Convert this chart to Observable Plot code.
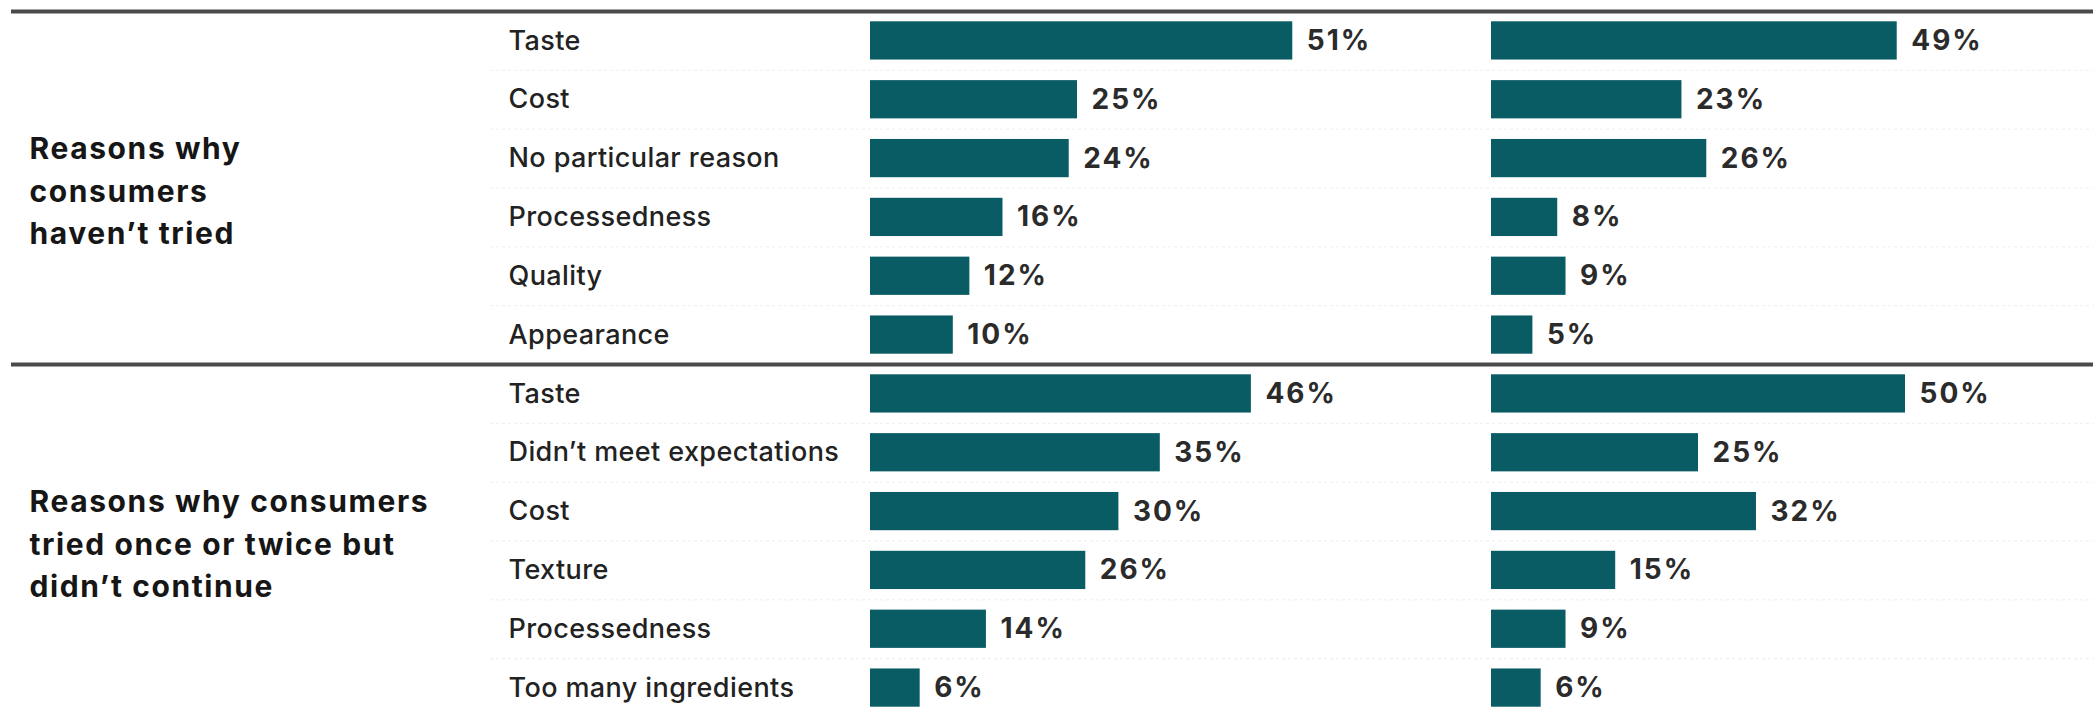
<!DOCTYPE html>
<html><head><meta charset="utf-8">
<script src="https://cdn.jsdelivr.net/npm/d3@7"></script>
<script src="https://cdn.jsdelivr.net/npm/@observablehq/plot@0.6"></script>
<style>
html,body{margin:0;padding:0;background:#fff;overflow:hidden;}
#wrap{position:relative;width:2093px;height:711px;}
#wrap svg{position:absolute;left:0;top:0;}
g[font-size="28"]{letter-spacing:2px;}
g[font-size="30"]{letter-spacing:1.6px;}
g[font-size="27"]{letter-spacing:0.4px;}
</style></head><body><div id="wrap"></div>
<script>
// ---- data ----
const groupLabels = ["Reasons why\nconsumers\nhaven’t tried", "Reasons why consumers\ntried once or twice but\ndidn’t continue"];
const reasonsHaventTried = ["Taste", "Cost", "No particular reason", "Processedness", "Quality", "Appearance"];
const reasonsDidntContinue = ["Taste", "Didn’t meet expectations", "Cost", "Texture", "Processedness", "Too many ingredients"];
const leftHaventTried = [51, 25, 24, 16, 12, 10];
const rightHaventTried = [49, 23, 26, 8, 9, 5];
const leftDidntContinue = [46, 35, 30, 26, 14, 6];
const rightDidntContinue = [50, 25, 32, 15, 9, 6];

// ---- table ----
const rows = [];
[[reasonsHaventTried, leftHaventTried, rightHaventTried],
 [reasonsDidntContinue, leftDidntContinue, rightDidntContinue]].forEach(([reasons, L, R], g) => {
  reasons.forEach((r, i) => rows.push({group: g, idx: i, key: g + "|" + r, reason: r, left: L[i], right: R[i]}));
});
const keys = rows.map(d => d.key);
const groupsData = groupLabels.map((label, g) => ({label, key: rows.find(d => d.group === g && d.idx === 2).key}));

// ---- layout / style ----
const W = 2093, H = 711;
const yTop = 11, yBottom = 717;
const step = (yBottom - yTop) / keys.length;
const yScale = {domain: keys, range: [yTop, yBottom], paddingInner: 0.35, paddingOuter: 0.175, round: false, axis: null};
const font = "Inter, Roboto, 'Open Sans', sans-serif";
const teal = "#0a5c64";
const xDomain = [0, 70];
const pxPerUnit = 8.28;
const leftX0 = 870, rightX0 = 1491;

const p1 = Plot.plot({
  width: W, height: H, marginLeft: 11, marginRight: 0, marginTop: 0, marginBottom: 0,
  style: {fontFamily: font, background: "transparent"},
  x: {domain: xDomain, range: [leftX0, leftX0 + pxPerUnit * xDomain[1]], axis: null},
  y: yScale,
  marks: [
    Plot.ruleY(rows.filter(d => d.idx > 0), {y: "key", dy: -step / 2, stroke: "#ededed", strokeWidth: 1, strokeDasharray: "3,3", insetLeft: 479}),
    Plot.ruleY(rows.filter(d => d.idx === 0), {y: "key", dy: -step / 2, stroke: "#4a4a4a", strokeWidth: 4}),
    Plot.barX(rows, {x: "left", y: "key", fill: teal}),
    Plot.text(rows, {x: "left", y: "key", text: d => d.left + "%", dx: 14, textAnchor: "start", fontSize: 28, fontWeight: 700, fill: "#2b2b2b"}),
    Plot.text(rows, {y: "key", text: "reason", frameAnchor: "left", dx: 497, textAnchor: "start", fontSize: 27, fontWeight: 500, fill: "#222"}),
    Plot.text(groupsData, {y: "key", text: "label", frameAnchor: "left", dx: 18, dy: step / 2, textAnchor: "start", lineAnchor: "middle", lineHeight: 1.42, fontSize: 30, fontWeight: 700, fill: "#161616"})
  ]
});

const p2 = Plot.plot({
  width: W, height: H, marginLeft: 0, marginRight: 0, marginTop: 0, marginBottom: 0,
  style: {fontFamily: font, background: "transparent"},
  x: {domain: xDomain, range: [rightX0, rightX0 + pxPerUnit * xDomain[1]], axis: null},
  y: yScale,
  marks: [
    Plot.barX(rows, {x: "right", y: "key", fill: teal}),
    Plot.text(rows, {x: "right", y: "key", text: d => d.right + "%", dx: 14, textAnchor: "start", fontSize: 28, fontWeight: 700, fill: "#2b2b2b"})
  ]
});

const wrap = document.getElementById("wrap");
wrap.appendChild(p1);
wrap.appendChild(p2);
</script></body></html>
